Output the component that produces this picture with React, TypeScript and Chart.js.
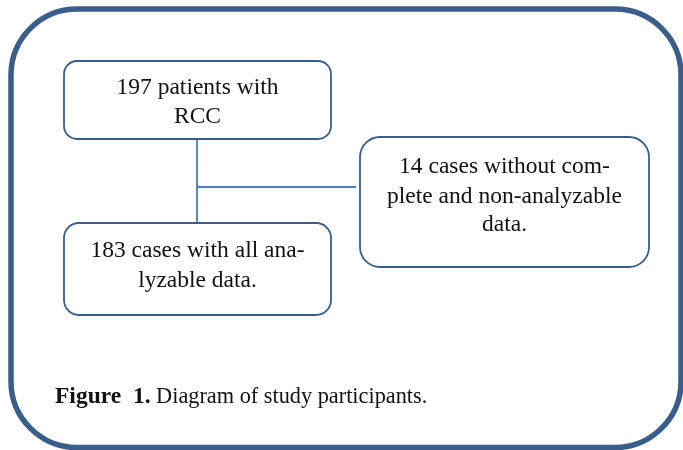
import React, { useEffect, useRef } from "react";
import { Chart, registerables } from "chart.js";

Chart.register(...registerables);

// Flowchart content
const boxLabels: string[][] = [
  ["197 patients with", "RCC"],
  ["14 cases without com-", "plete and non-analyzable", "data."],
  ["183 cases with all ana-", "lyzable data."],
];
// box extents in figure units: [x0, y0, x1, y1]
const boxExtents: number[][] = [
  [64, 61, 331, 139],
  [360, 137, 649, 267],
  [64, 223, 331, 315],
];
const boxRadius: number[] = [13, 20, 15];
const textBaselines: number[][] = [
  [94, 123],
  [173, 203, 231],
  [257, 287],
];
const connectorVertical = [
  { x: 197, y: 139 },
  { x: 197, y: 223 },
];
const connectorHorizontal = [
  { x: 197, y: 187 },
  { x: 356, y: 187 },
];
const captionBold = "Figure  1.";
const captionText = " Diagram of study participants.";

const W = 683;
const H = 450;

function roundRect(ctx: CanvasRenderingContext2D, x0: number, y0: number, x1: number, y1: number, r: number) {
  ctx.beginPath();
  ctx.moveTo(x0 + r, y0);
  ctx.lineTo(x1 - r, y0);
  ctx.arcTo(x1, y0, x1, y0 + r, r);
  ctx.lineTo(x1, y1 - r);
  ctx.arcTo(x1, y1, x1 - r, y1, r);
  ctx.lineTo(x0 + r, y1);
  ctx.arcTo(x0, y1, x0, y1 - r, r);
  ctx.lineTo(x0, y0 + r);
  ctx.arcTo(x0, y0, x0 + r, y0, r);
  ctx.closePath();
}

const flowPlugin = {
  id: "flow",
  beforeDatasetsDraw(chart: any) {
    const ctx: CanvasRenderingContext2D = chart.ctx;
    const xs = chart.scales.x;
    const ys = chart.scales.y;
    const px = (v: number) => xs.getPixelForValue(v);
    const py = (v: number) => ys.getPixelForValue(v);
    ctx.save();
    ctx.fillStyle = "#ffffff";
    ctx.fillRect(0, 0, chart.width, chart.height);
    // outer frame
    ctx.strokeStyle = "#3a5e8c";
    ctx.lineWidth = 5.5;
    roundRect(ctx, px(11), py(9), px(681), py(447.5), 66);
    ctx.stroke();
    ctx.restore();
  },
  afterDatasetsDraw(chart: any) {
    const ctx: CanvasRenderingContext2D = chart.ctx;
    const xs = chart.scales.x;
    const ys = chart.scales.y;
    const px = (v: number) => xs.getPixelForValue(v);
    const py = (v: number) => ys.getPixelForValue(v);
    ctx.save();
    boxExtents.forEach((b, i) => {
      ctx.strokeStyle = "#3a5e8c";
      ctx.lineWidth = 1.8;
      ctx.fillStyle = "#ffffff";
      roundRect(ctx, px(b[0]), py(b[1]), px(b[2]), py(b[3]), boxRadius[i]);
      ctx.fill();
      ctx.stroke();
      ctx.fillStyle = "#111111";
      ctx.font = '23.5px "Liberation Serif"';
      ctx.textAlign = "center";
      ctx.textBaseline = "alphabetic";
      const cx = (px(b[0]) + px(b[2])) / 2;
      boxLabels[i].forEach((line, j) => {
        ctx.fillText(line, cx, py(textBaselines[i][j]));
      });
    });
    // caption
    ctx.textAlign = "left";
    ctx.fillStyle = "#111111";
    ctx.font = 'bold 23.5px "Liberation Serif"';
    const x0 = px(55);
    const yb = py(403);
    ctx.fillText(captionBold, x0, yb);
    const wb = ctx.measureText(captionBold).width;
    ctx.font = '22.3px "Liberation Serif"';
    ctx.fillText(captionText, x0 + wb, yb);
    ctx.restore();
  },
};

export default function App() {
  const ref = useRef<HTMLCanvasElement | null>(null);
  useEffect(() => {
    document.body.style.margin = "0";
    if (!ref.current) return;
    const chart = new Chart(ref.current, {
      type: "scatter",
      data: {
        datasets: [
          {
            data: connectorVertical,
            showLine: true,
            borderColor: "#4a7ebb",
            borderWidth: 1.8,
            pointRadius: 0,
          },
          {
            data: connectorHorizontal,
            showLine: true,
            borderColor: "#4a7ebb",
            borderWidth: 1.8,
            pointRadius: 0,
          },
        ],
      },
      options: {
        responsive: false,
        animation: false,
        layout: { padding: 0 },
        plugins: { legend: { display: false }, tooltip: { enabled: false } },
        scales: {
          x: { type: "linear", min: 0, max: W, display: false },
          y: { type: "linear", min: 0, max: H, reverse: true, display: false },
        },
      },
      plugins: [flowPlugin],
    });
    return () => chart.destroy();
  }, []);
  return <canvas ref={ref} width={W} height={H} style={{ display: "block" }} />;
}
